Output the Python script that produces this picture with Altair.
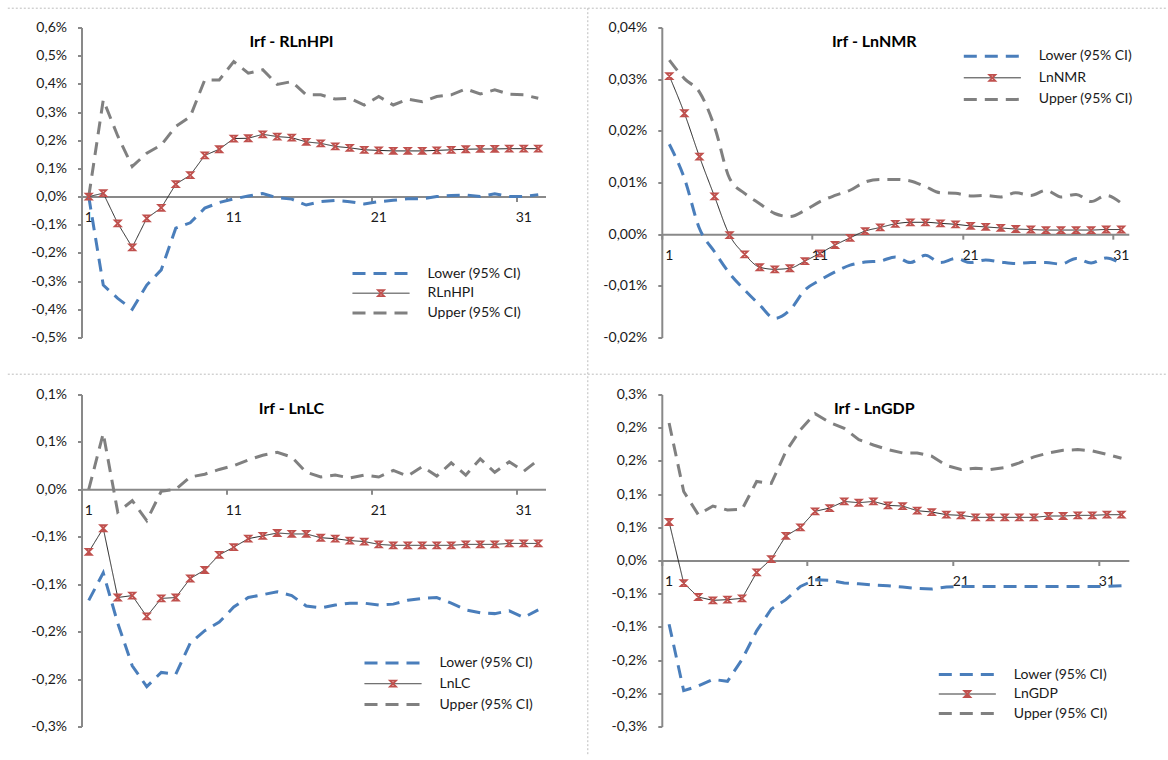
import altair as alt
import pandas as pd

LOWER = "Lower (95% CI)"
UPPER = "Upper (95% CI)"
X_LABEL_VALUES = [1, 11, 21, 31]

# ---------------- Irf - RLnHPI (values in %) ----------------
hpi_lower = [0.000, -0.314, -0.361, -0.400, -0.314, -0.260, -0.112, -0.093, -0.041, -0.021,
             -0.008, 0.002, 0.011, -0.004, -0.009, -0.030, -0.018, -0.014, -0.018, -0.026,
             -0.018, -0.013, -0.008, -0.008, 0.000, 0.004, 0.006, 0.000, 0.010, 0.000,
             0.000, 0.007]
hpi_central = [0.000, 0.012, -0.095, -0.180, -0.077, -0.040, 0.044, 0.076, 0.146, 0.168,
               0.206, 0.207, 0.221, 0.213, 0.209, 0.194, 0.189, 0.178, 0.173, 0.166,
               0.164, 0.162, 0.162, 0.162, 0.164, 0.166, 0.168, 0.169, 0.169, 0.170,
               0.170, 0.170]
hpi_upper = [0.000, 0.343, 0.215, 0.107, 0.154, 0.183, 0.249, 0.284, 0.414, 0.414,
             0.479, 0.438, 0.450, 0.398, 0.408, 0.361, 0.361, 0.346, 0.349, 0.325,
             0.355, 0.325, 0.346, 0.337, 0.355, 0.361, 0.382, 0.364, 0.379, 0.363,
             0.361, 0.349]
hpi_ticks = [0.6, 0.5, 0.4, 0.3, 0.2, 0.1, 0.0, -0.1, -0.2, -0.3, -0.4, -0.5]
hpi_tick_labels = ["0,6%", "0,5%", "0,4%", "0,3%", "0,2%", "0,1%", "0,0%",
                   "-0,1%", "-0,2%", "-0,3%", "-0,4%", "-0,5%"]

# ---------------- Irf - LnNMR ----------------
nmr_lower = [0.0174, 0.0108, 0.0011, -0.0034, -0.0076, -0.0108, -0.0137, -0.0163, -0.0147, -0.0108,
             -0.0089, -0.0073, -0.0060, -0.0054, -0.0052, -0.0044, -0.0055, -0.0041, -0.0055, -0.0047,
             -0.0055, -0.0050, -0.0054, -0.0057, -0.0055, -0.0055, -0.0058, -0.0047, -0.0056, -0.0046,
             -0.0058]
nmr_central = [0.0306, 0.0234, 0.0150, 0.0073, -0.0002, -0.0039, -0.0064, -0.0068, -0.0066, -0.0052,
               -0.0037, -0.0021, -0.0007, 0.0006, 0.0013, 0.0020, 0.0023, 0.0023, 0.0021, 0.0019,
               0.0016, 0.0014, 0.0012, 0.0010, 0.0009, 0.0008, 0.0008, 0.0008, 0.0008, 0.0009,
               0.0009]
nmr_upper = [0.0337, 0.0301, 0.0275, 0.0208, 0.0108, 0.0079, 0.0059, 0.0040, 0.0034, 0.0046,
             0.0063, 0.0075, 0.0085, 0.0101, 0.0106, 0.0106, 0.0103, 0.0092, 0.0080, 0.0079,
             0.0074, 0.0075, 0.0072, 0.0080, 0.0075, 0.0085, 0.0072, 0.0077, 0.0063, 0.0075,
             0.0060]
nmr_ticks = [0.04, 0.03, 0.02, 0.01, 0.0, -0.01, -0.02]
nmr_tick_labels = ["0,04%", "0,03%", "0,02%", "0,01%", "0,00%", "-0,01%", "-0,02%"]

# ---------------- Irf - LnLC ----------------
lc_lower = [-0.117, -0.088, -0.141, -0.186, -0.208, -0.193, -0.195, -0.162, -0.149, -0.140,
            -0.124, -0.114, -0.111, -0.108, -0.112, -0.123, -0.125, -0.122, -0.120, -0.120,
            -0.122, -0.121, -0.117, -0.115, -0.114, -0.120, -0.127, -0.130, -0.131, -0.128,
            -0.135, -0.127]
lc_central = [-0.066, -0.041, -0.114, -0.112, -0.134, -0.115, -0.114, -0.094, -0.085, -0.069,
              -0.061, -0.052, -0.049, -0.046, -0.047, -0.047, -0.051, -0.052, -0.054, -0.055,
              -0.058, -0.059, -0.059, -0.059, -0.059, -0.059, -0.058, -0.058, -0.058, -0.057,
              -0.057, -0.057]
lc_upper = [0.000, 0.059, -0.024, -0.012, -0.033, -0.002, 0.000, 0.013, 0.016, 0.021,
            0.025, 0.031, 0.036, 0.039, 0.034, 0.018, 0.013, 0.015, 0.012, 0.015,
            0.013, 0.020, 0.014, 0.024, 0.014, 0.028, 0.015, 0.032, 0.018, 0.029,
            0.019, 0.031]
lc_ticks = [0.10, 0.05, 0.0, -0.05, -0.10, -0.15, -0.20, -0.25]
lc_tick_labels = ["0,1%", "0,1%", "0,0%", "-0,1%", "-0,1%", "-0,2%", "-0,2%", "-0,3%"]

# ---------------- Irf - LnGDP ----------------
gdp_lower = [-0.096, -0.196, -0.189, -0.179, -0.182, -0.149, -0.106, -0.073, -0.059, -0.039,
             -0.029, -0.030, -0.034, -0.035, -0.037, -0.038, -0.040, -0.042, -0.043, -0.040,
             -0.039, -0.039, -0.039, -0.039, -0.039, -0.039, -0.039, -0.039, -0.039, -0.039,
             -0.039, -0.038]
gdp_central = [0.058, -0.034, -0.055, -0.060, -0.059, -0.057, -0.018, 0.002, 0.037, 0.050,
               0.074, 0.079, 0.089, 0.087, 0.089, 0.083, 0.082, 0.075, 0.073, 0.069,
               0.068, 0.065, 0.065, 0.065, 0.065, 0.065, 0.067, 0.067, 0.068, 0.068,
               0.069, 0.069]
gdp_upper = [0.207, 0.104, 0.069, 0.082, 0.076, 0.077, 0.119, 0.116, 0.164, 0.197,
             0.221, 0.208, 0.199, 0.182, 0.174, 0.167, 0.162, 0.162, 0.157, 0.143,
             0.137, 0.139, 0.137, 0.140, 0.147, 0.156, 0.162, 0.166, 0.167, 0.165,
             0.160, 0.154]
gdp_ticks = [0.25, 0.20, 0.15, 0.10, 0.05, 0.0, -0.05, -0.10, -0.15, -0.20, -0.25]
gdp_tick_labels = ["0,3%", "0,2%", "0,2%", "0,1%", "0,1%", "0,0%",
                   "-0,1%", "-0,1%", "-0,2%", "-0,2%", "-0,3%"]

# ---------------- styling ----------------
FONT = "Lato"
TEXT = "#1a1a1a"
AXIS = "#898989"
RED = "#C0504D"
SERIES_COLORS = ["#4A7EBB", "#262626", "#808080"]
SERIES_DASH = [[13, 8], [1, 0], [13, 8]]
SERIES_WIDTH = [3, 1, 3]
LINE_SYMBOL = "M-5.7,0H5.7"
MARKER = "M-1,-1L1,-1L-1,1L1,1Z"
NO_MARKER = "M0,0"

panels = [
    dict(title="Irf - RLnHPI", name="RLnHPI", lower=hpi_lower, central=hpi_central, upper=hpi_upper,
         ticks=hpi_ticks, labels=hpi_tick_labels, interp="linear", lx=271, ly=239, rp=5.7,
         width=464, height=310, dx=-22),
    dict(title="Irf - LnNMR", name="LnNMR", lower=nmr_lower, central=nmr_central, upper=nmr_upper,
         ticks=nmr_ticks, labels=nmr_tick_labels, interp="monotone", lx=302, ly=21.7, rp=7.6,
         width=467, height=310, dx=-21),
    dict(title="Irf - LnLC", name="LnLC", lower=lc_lower, central=lc_central, upper=lc_upper,
         ticks=lc_ticks, labels=lc_tick_labels, interp="linear", lx=283, ly=261.4, rp=6.8,
         width=464, height=332, dx=-22),
    dict(title="Irf - LnGDP", name="LnGDP", lower=gdp_lower, central=gdp_central, upper=gdp_upper,
         ticks=gdp_ticks, labels=gdp_tick_labels, interp="linear", lx=277, ly=273, rp=5.5,
         width=467, height=332, dx=-21),
]

CHANNELS = ["color", "strokeDash", "strokeWidth", "shape"]


def label_expr(values, labels):
    parts = [f"abs(datum.value - ({v})) < 1e-9 ? '{l}'" for v, l in zip(values, labels)]
    return " : ".join(parts) + " : ''"


def make_panel(p, with_frame=False):
    n = len(p["central"])
    periods = list(range(1, n + 1))
    names = [LOWER, p["name"], UPPER]
    rows = []
    for s, vals in zip(names, [p["lower"], p["central"], p["upper"]]):
        for per, v in zip(periods, vals):
            rows.append({"period": per, "value": v, "series": s, "marker": s})
    df = pd.DataFrame(rows)
    central_df = df[df["series"] == p["name"]]

    ymax, ymin = p["ticks"][0], p["ticks"][-1]
    zero_from_bottom = p["height"] * (0 - ymin) / (ymax - ymin)

    x_enc = alt.X(
        "period:O",
        scale=alt.Scale(type="band", domain=periods, paddingInner=0, paddingOuter=0),
        bandPosition=0.5,
        title=None,
        axis=alt.Axis(values=X_LABEL_VALUES, bandPosition=0, labelAngle=0, offset=-zero_from_bottom,
                      tickSize=5, labelPadding=16, labelBaseline="middle", grid=False),
    )
    y_enc = alt.Y(
        "value:Q",
        scale=alt.Scale(domain=[ymin, ymax], nice=False, zero=False),
        title=None,
        axis=alt.Axis(values=p["ticks"], labelExpr=label_expr(p["ticks"], p["labels"]),
                      tickSize=4, labelPadding=11, grid=False),
    )

    legend_common = dict(orient="none", legendX=p["lx"], legendY=p["ly"], padding=0,
                         rowPadding=p["rp"], symbolOffset=21.5, labelOffset=39.5,
                         labelFont=FONT, labelFontSize=14, labelLimit=300)
    line_legend = alt.Legend(title=None, symbolType=LINE_SYMBOL, symbolSize=100,
                             labelColor=TEXT, **legend_common)

    lines = alt.Chart(df).mark_line(interpolate=p["interp"]).encode(
        x=x_enc,
        y=y_enc,
        color=alt.Color("series:N", scale=alt.Scale(domain=names, range=SERIES_COLORS), legend=line_legend),
        strokeDash=alt.StrokeDash("series:N", scale=alt.Scale(type="ordinal", domain=names, range=SERIES_DASH),
                                  legend=line_legend),
        strokeWidth=alt.StrokeWidth("series:N", scale=alt.Scale(type="ordinal", domain=names, range=SERIES_WIDTH),
                                    legend=line_legend),
        order=alt.Order("period:Q"),
    )

    marker_legend = alt.Legend(title=None, symbolSize=36, symbolStrokeWidth=1.8, symbolOpacity=1,
                               symbolStrokeColor=RED, symbolFillColor="transparent",
                               labelExpr="''", labelColor="transparent", **legend_common)
    points = alt.Chart(central_df).mark_point(filled=False, size=36, strokeWidth=1.8, color=RED,
                                              opacity=1).encode(
        x=x_enc,
        y=y_enc,
        shape=alt.Shape("marker:N", scale=alt.Scale(domain=names, range=[NO_MARKER, MARKER, NO_MARKER]),
                        legend=marker_legend),
    )

    title_df = pd.DataFrame({"title": [p["title"]]})
    title = alt.Chart(title_df).mark_text(font=FONT, fontSize=16, fontWeight="bold", color="#000000",
                                          align="center", baseline="middle").encode(
        x=alt.value(p["width"] / 2 + p["dx"]), y=alt.value(14.5), text="title:N")

    layers = [lines, points, title]
    if with_frame:
        dummy = pd.DataFrame({"k": [0]})
        frame_style = dict(color="#bdbdbd", strokeDash=[2, 2], strokeWidth=1)
        top_line = alt.Chart(dummy).mark_rule(**frame_style).encode(
            x=alt.value(-73.7), x2=alt.value(1084.3), y=alt.value(-19.3))
        mid_line = alt.Chart(dummy).mark_rule(**frame_style).encode(
            x=alt.value(-73.7), x2=alt.value(1084.3), y=alt.value(346.7))
        vert_line = alt.Chart(dummy).mark_rule(**frame_style).encode(
            x=alt.value(506.3), y=alt.value(-19.3), y2=alt.value(727.7))
        layers = [top_line, mid_line, vert_line] + layers

    return alt.layer(*layers).properties(
        width=p["width"],
        height=p["height"],
    ).resolve_legend(
        **{c: "independent" for c in CHANNELS}
    )


charts = [make_panel(p, with_frame=(i == 0)) for i, p in enumerate(panels)]

chart = alt.concat(
    *charts, columns=2, bounds="flush", align="each",
    spacing={"row": 57, "column": 116.3},
).resolve_scale(
    **{c: "independent" for c in CHANNELS}
).resolve_legend(
    **{c: "independent" for c in CHANNELS}
).properties(
    padding={"left": 6.5, "top": 7.5, "right": 0, "bottom": 0},
    background="white",
).configure_view(
    strokeWidth=0
).configure_axis(
    domainColor=AXIS, domainWidth=2, tickColor=AXIS, tickWidth=2,
    labelFont=FONT, labelFontSize=14, labelColor=TEXT,
)

chart.save("out.html", embed_options={"renderer": "svg", "actions": False})
